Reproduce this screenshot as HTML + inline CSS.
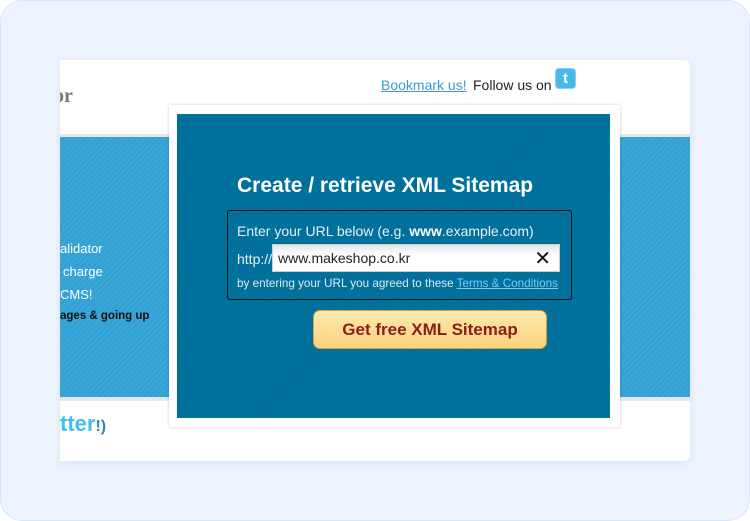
<!DOCTYPE html>
<html><head><meta charset="utf-8"><style>
*{margin:0;padding:0;box-sizing:border-box}
body{width:750px;height:521px;background:#fff;font-family:"Liberation Sans",Arial,sans-serif;position:relative;overflow:hidden}
.outer{position:absolute;left:0;top:0;width:750px;height:521px;background:#edf4fe;border:1px solid #d8e6fa;border-radius:22px}
.card{position:absolute;left:60px;top:60px;width:630px;height:401px;background:#fff;border-radius:0 6px 6px 0;overflow:hidden;box-shadow:0 2px 8px rgba(150,180,230,.25)}
.line{position:absolute;left:0;top:74px;width:630px;height:4px;background:#e6e6e6}
.band{position:absolute;left:0;top:77px;width:630px;height:260px;background:repeating-linear-gradient(135deg,#3ba7d9 0 2px,#33a0d2 2px 4px)}
.line2{position:absolute;left:0;top:337px;width:630px;height:4px;background:#e8e8e8}
.t{position:absolute;font-size:13px;color:#fff}
.modal{position:absolute;left:169px;top:105px;width:451px;height:322px;background:#fff;box-shadow:0 0 3px rgba(0,0,0,.2)}
.inner{position:absolute;left:8px;top:9px;width:433px;height:304px;background:repeating-linear-gradient(135deg,#00739f 0 2px,#006e99 2px 4px)}
</style></head><body>
<div class="outer"></div>
<div class="card">
 <div style="position:absolute;left:-6px;top:25px;font-family:'Liberation Serif',serif;font-weight:bold;font-size:20px;color:#777">or</div>
 <div style="position:absolute;left:321px;top:17px;font-size:14px;color:#3b9ad0;text-decoration:underline">Bookmark us!</div>
 <div style="position:absolute;left:413px;top:17px;font-size:14px;color:#222">Follow us on</div>
 <div style="position:absolute;left:495px;top:8px;width:21px;height:21px;background:#49b7ea;border-radius:4px;border:1px solid #8ccfee;color:#fff;font-weight:bold;font-size:15px;text-align:center;line-height:19px">t</div>
 <div class="line"></div>
 <div class="band"></div>
 <div class="line2"></div>
 <div class="t" style="left:0;top:181px">alidator</div>
 <div class="t" style="left:3px;top:204px">charge</div>
 <div class="t" style="left:0;top:227px">CMS!</div>
 <div class="t" style="left:0;top:250px;font-size:11.5px;color:#111;font-weight:bold">ages &amp; going up</div>
 <div style="position:absolute;left:0;top:351px;font-size:22px;font-weight:bold;color:#3ec0f0">tter<span style="font-size:16px;color:#2a86b8">!)</span></div>
</div>
<div class="modal"><div class="inner">
 <div style="position:absolute;left:60px;top:60px;font-size:21px;font-weight:bold;color:#fff">Create / retrieve XML Sitemap</div>
 <div style="position:absolute;left:50px;top:96px;width:345px;height:90px;border:1px solid #111;border-radius:3px">
  <div style="position:absolute;left:9px;top:12px;font-size:14px;color:#e8f0f5">Enter your URL below (e.g. <b style="color:#fff">www</b>.example.com)</div>
  <div style="position:absolute;left:9px;top:40px;font-size:14px;color:#e8f0f5">http://</div>
  <div style="position:absolute;left:44px;top:33px;width:288px;height:28px;background:linear-gradient(#e6e6e6,#fff 40%);border:1px solid #ccc">
   <div style="position:absolute;left:5px;top:5px;font-size:14px;color:#222">www.makeshop.co.kr</div>
   <div style="position:absolute;right:8px;top:1px;font-size:20px;color:#111">✕</div>
  </div>
  <div style="position:absolute;left:9px;top:66px;font-size:11.7px;color:#e0e8ee">by entering your URL you agreed to these <span style="color:#7fc8ee;text-decoration:underline">Terms &amp; Conditions</span></div>
 </div>
 <div style="position:absolute;left:136px;top:196px;width:234px;height:39px;border:1px solid #d6a23a;border-radius:7px;background:linear-gradient(#fde9b0,#fcd27a);text-align:center;line-height:37px;font-size:17px;font-weight:bold;color:#8b1d1d">Get free XML Sitemap</div>
</div></div>
</body></html>
